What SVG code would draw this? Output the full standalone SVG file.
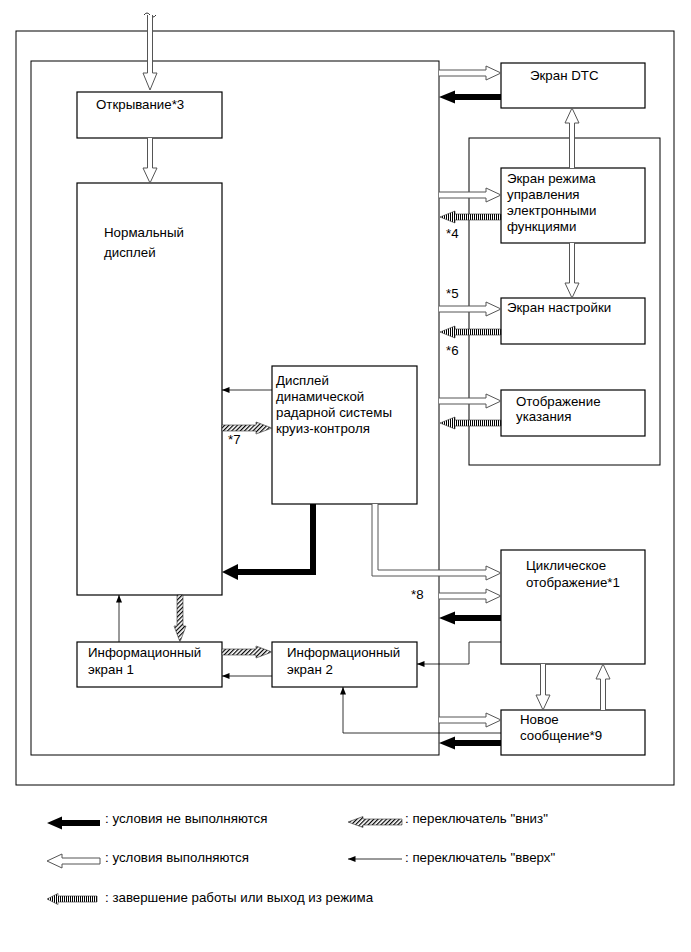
<svg xmlns="http://www.w3.org/2000/svg" width="691" height="952" viewBox="0 0 691 952">
<style>
.frame{fill:none;stroke:#000;stroke-width:1}
.box{fill:#fff;stroke:#000;stroke-width:1.2}
.t{font-family:"Liberation Sans",Arial,sans-serif;font-size:13.3px;fill:#000}
.open{fill:#fff;stroke:#555;stroke-width:1}
.blk{fill:#000;stroke:none}
.thin{fill:none;stroke:#000;stroke-width:0.8}
.exit{fill:url(#vs);stroke:#333;stroke-width:0.6}
.hat{fill:url(#ds);stroke:#333;stroke-width:0.6}
</style>
<defs>
<pattern id="vs" width="2" height="4" patternUnits="userSpaceOnUse"><rect width="2" height="4" fill="#fff"/><rect width="1" height="4" fill="#000"/></pattern>
<pattern id="ds" width="3" height="3" patternUnits="userSpaceOnUse" patternTransform="rotate(45)"><rect width="3" height="3" fill="#fff"/><rect width="1.2" height="3" fill="#000"/></pattern>
<marker id="ah" viewBox="0 0 10 8" refX="10" refY="4" markerWidth="8" markerHeight="6" markerUnits="userSpaceOnUse" orient="auto"><path d="M0,0 L10,4 L0,8 Z" fill="#000"/></marker>
</defs>
<rect class="frame" x="16" y="31" width="658" height="754"/>
<rect class="frame" x="31" y="61" width="408" height="694"/>
<rect class="frame" x="469" y="138" width="191" height="327"/>

<g id="n-open"><rect class="box" x="77" y="92" width="145" height="46"/><text class="t" x="96" y="109">Открывание*3</text></g>
<g id="n-normal"><rect class="box" x="77" y="183" width="145" height="412"/><text class="t" x="104" y="237">Нормальный</text><text class="t" x="104" y="257">дисплей</text></g>
<g id="n-dtc"><rect class="box" x="501" y="63" width="144" height="45"/><text class="t" x="530" y="80">Экран DTC</text></g>
<g id="n-emode"><rect class="box" x="501" y="168" width="144" height="75"/><text class="t" x="507" y="183">Экран режима</text><text class="t" x="507" y="199">управления</text><text class="t" x="507" y="215">электронными</text><text class="t" x="507" y="231">функциями</text></g>
<g id="n-settings"><rect class="box" x="501" y="298" width="144" height="46"/><text class="t" x="507" y="312">Экран настройки</text></g>
<g id="n-hint"><rect class="box" x="501" y="390" width="144" height="46"/><text class="t" x="516" y="406">Отображение</text><text class="t" x="516" y="421">указания</text></g>
<g id="n-cruise"><rect class="box" x="272" y="366" width="145" height="138"/><text class="t" x="276" y="385">Дисплей</text><text class="t" x="276" y="401">динамической</text><text class="t" x="276" y="417">радарной системы</text><text class="t" x="276" y="433">круиз-контроля</text></g>
<g id="n-cyclic"><rect class="box" x="501" y="550" width="144" height="114"/><text class="t" x="526" y="570">Циклическое</text><text class="t" x="526" y="587">отображение*1</text></g>
<g id="n-info1"><rect class="box" x="77" y="642" width="145" height="45"/><text class="t" x="88" y="657">Информационный</text><text class="t" x="88" y="674">экран 1</text></g>
<g id="n-info2"><rect class="box" x="272" y="642" width="145" height="45"/><text class="t" x="287" y="657">Информационный</text><text class="t" x="287" y="674">экран 2</text></g>
<g id="n-newmsg"><rect class="box" x="501" y="710" width="144" height="45"/><text class="t" x="520" y="724">Новое</text><text class="t" x="520" y="740">сообщение*9</text></g>

<g id="connectors">
<path class="thin" d="M144,15 q3,-4 6,0 q3,4 6,0"/>
<path class="open" d="M147.5,15 V73 H143 L150,90 L157,73 H152.5 V15"/>
<path class="open" d="M147.5,138 V168 H143 L150,183 L157,168 H152.5 V138"/>
<path class="open" d="M439,70 H486 V66 L501,73 L486,80 V76 H439"/>
<polygon class="blk" points="501,94 455,94 455,90.5 439,97 455,103.5 455,100 501,100"/>
<path class="open" d="M569.5,168 V123 H565 L572,108 L579,123 H574.5 V168"/>
<path class="open" d="M569.5,243 V283 H565 L572,298 L579,283 H574.5 V243"/>
<path class="open" d="M439,192 H486 V188 L501,195 L486,202 V198 H439"/>
<path class="exit" d="M501,214 H455 V211 L440,217 L455,223 V220 H501 Z"/>
<path class="open" d="M439,306 H486 V302 L501,309 L486,316 V312 H439"/>
<path class="exit" d="M501,329 H455 V326 L440,332 L455,338 V335 H501 Z"/>
<path class="open" d="M439,398 H486 V394 L501,401 L486,408 V404 H439"/>
<path class="exit" d="M501,420 H455 V417 L440,423 L455,429 V426 H501 Z"/>
<line class="thin" x1="272" y1="390" x2="222" y2="390" marker-end="url(#ah)"/>
<path class="hat" d="M222,425 H256 V422 L272,428 L256,434 V431 H222 Z"/>
<path d="M313,504 V572 H236" fill="none" stroke="#000" stroke-width="6"/>
<polygon class="blk" points="238,564 222,572 238,580"/>
<path class="open" d="M372,504 V576 H486 V580 L501,573 L486,566 V570 H378 V504"/>
<path class="open" d="M439,593 H486 V589 L501,596 L486,603 V599 H439"/>
<polygon class="blk" points="501,615 455,615 455,611.5 439,618 455,624.5 455,621 501,621"/>
<polyline class="thin" points="501,642 469,642 469,664 417,664" marker-end="url(#ah)"/>
<line class="thin" x1="119" y1="642" x2="119" y2="595" marker-end="url(#ah)"/>
<path class="hat" d="M177,595 V626 H174 L180,642 L186,626 H183 V595 Z"/>
<path class="hat" d="M222,649 H256 V646 L272,652 L256,658 V655 H222 Z"/>
<line class="thin" x1="272" y1="676" x2="222" y2="676" marker-end="url(#ah)"/>
<path class="open" d="M540.5,664 V695 H536 L543,710 L550,695 H545.5 V664"/>
<path class="open" d="M600.5,710 V679 H596 L603,664 L610,679 H605.5 V710"/>
<path class="open" d="M439,717 H486 V713 L501,720 L486,727 V723 H439"/>
<polyline class="thin" points="501,733 343,733 343,687" marker-end="url(#ah)"/>
<polygon class="blk" points="501,740 455,740 455,736.5 439,743 455,749.5 455,746 501,746"/>
</g>
<text class="t" x="446" y="238">*4</text>
<text class="t" x="446" y="298">*5</text>
<text class="t" x="446" y="355">*6</text>
<text class="t" x="228" y="444">*7</text>
<text class="t" x="411" y="599">*8</text>

<g id="legend">
<polygon class="blk" points="100,820 62,820 62,816.5 47,823 62,829.5 62,826 100,826"/>
<text class="t" x="105" y="823">: условия не выполняются</text>
<path class="open" d="M100,858 H62 V854 L47,861 L62,868 V864 H100 Z"/>
<text class="t" x="105" y="862">: условия выполняются</text>
<path class="exit" d="M97,896 H58 V893.5 L47,899 L58,904.5 V902 H97 Z"/>
<text class="t" x="105" y="902">: завершение работы или выход из режима</text>
<path class="hat" d="M402,819 H363 V816.5 L348,822 L363,827.5 V825 H402 Z"/>
<text class="t" x="405" y="823">: переключатель "вниз"</text>
<line class="thin" x1="402" y1="859" x2="348" y2="859" marker-end="url(#ah)"/>
<text class="t" x="405" y="862">: переключатель "вверх"</text>
</g>
</svg>
